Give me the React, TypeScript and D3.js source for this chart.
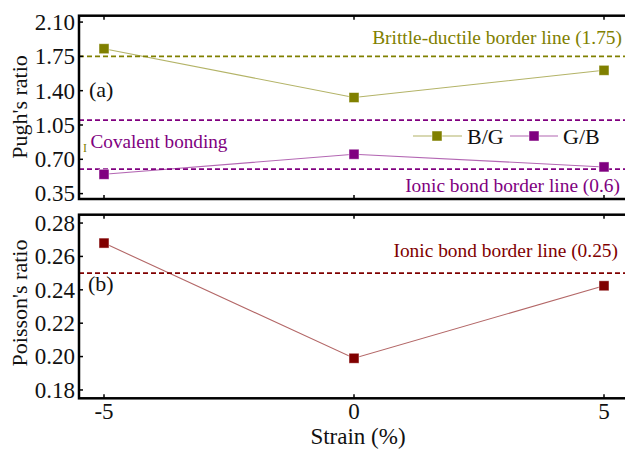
import React from "react";
import * as d3 from "d3";

// Strain levels (%) and the elastic ratios computed at each
const strain = [-5, 0, 5];
const bOverG = [1.828, 1.33, 1.608];
const gOverB = [0.547, 0.752, 0.622];
const poisson = [0.268, 0.199, 0.2424];

const pughTicks = [0.35, 0.7, 1.05, 1.4, 1.75, 2.1];
const poissonTicks = [0.18, 0.2, 0.22, 0.24, 0.26, 0.28];
const strainTicks = [-5, 0, 5];

// Reference border values
const brittleDuctile = 1.75;
const covalentBorder = 1.1;
const ionicPugh = 0.6;
const ionicPoisson = 0.25;

const OLIVE = "#808000";
const PURPLE = "#800080";
const MAROON = "#800000";
const FONT = "Liberation Serif, Times New Roman, serif";
const serif = { fontFamily: FONT };

const W = 625;
const H = 450;
const left = 79;
const right = 629;

const x = d3.scaleLinear().domain([-5.5, 5.5]).range([left, right]);
const yTop = d3.scaleLinear().domain([0.295, 2.165]).range([199, 15.7]);
const yBot = d3.scaleLinear().domain([0.175, 0.285]).range([398.3, 214.7]);

function Marker({ cx, cy, color }: { cx: number; cy: number; color: string }) {
  const s = 10;
  return (
    <rect
      x={cx - s / 2}
      y={cy - s / 2}
      width={s}
      height={s}
      fill={color}
      stroke="#ffffff"
      strokeOpacity={0.6}
      strokeWidth={0.8}
    />
  );
}

function Series({
  values,
  y,
  color,
}: {
  values: number[];
  y: d3.ScaleLinear<number, number>;
  color: string;
}) {
  const line = d3
    .line<number>()
    .x((_, i) => x(strain[i]))
    .y((v) => y(v));
  return (
    <g>
      <path d={line(values) || ""} fill="none" stroke={color} strokeOpacity={0.6} strokeWidth={1.1} />
      {values.map((v, i) => (
        <Marker key={i} cx={x(strain[i])} cy={y(v)} color={color} />
      ))}
    </g>
  );
}

function Frame({
  y,
  ticks,
  fmt,
}: {
  y: d3.ScaleLinear<number, number>;
  ticks: number[];
  fmt: (v: number) => string;
}) {
  const [y0, y1] = y.range();
  return (
    <g>
      {ticks.map((t) => (
        <g key={t}>
          <line x1={left} x2={left + 4} y1={y(t)} y2={y(t)} stroke="#000" strokeWidth={1.5} />
          <text
            x={left - 4}
            y={y(t)}
            dy="0.34em"
            textAnchor="end"
            fontSize={23}
            style={serif}
            fill="#111"
          >
            {fmt(t)}
          </text>
        </g>
      ))}
      {strainTicks.map((t) => (
        <g key={t}>
          <line x1={x(t)} x2={x(t)} y1={y1} y2={y1 + 4} stroke="#000" strokeWidth={1.5} />
          <line x1={x(t)} x2={x(t)} y1={y0} y2={y0 - 4} stroke="#000" strokeWidth={1.5} />
        </g>
      ))}
      <rect
        x={left}
        y={y1}
        width={right - left}
        height={y0 - y1}
        fill="none"
        stroke="#000"
        strokeWidth={2.5}
      />
    </g>
  );
}

function Dashed({ y, color }: { y: number; color: string }) {
  return (
    <line
      x1={left}
      x2={right}
      y1={y}
      y2={y}
      stroke={color}
      strokeWidth={1.6}
      strokeDasharray="5,3"
    />
  );
}

export default function App() {
  const fmt2 = d3.format(".2f");
  return (
    <svg
      width={W}
      height={H}
      style={{ position: "absolute", left: 0, top: 0, background: "#fff" }}
    >
      <rect x={0} y={0} width={W} height={H} fill="#fff" />

      {/* (a) Pugh's ratio */}
      <Dashed y={yTop(brittleDuctile)} color={OLIVE} />
      <Dashed y={yTop(covalentBorder)} color={PURPLE} />
      <Dashed y={yTop(ionicPugh)} color={PURPLE} />
      <Series values={bOverG} y={yTop} color={OLIVE} />
      <Series values={gOverB} y={yTop} color={PURPLE} />
      <Frame y={yTop} ticks={pughTicks} fmt={fmt2} />
      <text x={622} y={44} textAnchor="end" fontSize={19.4} style={serif} fill={OLIVE}>
        Brittle-ductile border line (1.75)
      </text>
      <text x={620} y={192} textAnchor="end" fontSize={19.4} style={serif} fill={PURPLE}>
        Ionic bond border line (0.6)
      </text>
      <text x={90.5} y={148} fontSize={19.2} style={serif} fill={PURPLE}>
        Covalent bonding
      </text>
      <text x={83} y={152} fontSize={12} style={serif} fill={OLIVE}>
        I
      </text>
      <text x={89} y={97} fontSize={22} style={serif} fill="#111">
        (a)
      </text>

      {/* legend */}
      <g>
        <line x1={413} x2={462} y1={136} y2={136} stroke={OLIVE} strokeOpacity={0.6} strokeWidth={1.1} />
        <Marker cx={437} cy={136} color={OLIVE} />
        <text x={467} y={144} fontSize={22} style={serif} fill="#111">
          B/G
        </text>
        <line x1={510} x2={558} y1={136} y2={136} stroke={PURPLE} strokeOpacity={0.6} strokeWidth={1.1} />
        <Marker cx={534} cy={136} color={PURPLE} />
        <text x={563} y={144} fontSize={22} style={serif} fill="#111">
          G/B
        </text>
      </g>

      {/* (b) Poisson's ratio */}
      <Dashed y={yBot(ionicPoisson)} color={MAROON} />
      <Series values={poisson} y={yBot} color={MAROON} />
      <Frame y={yBot} ticks={poissonTicks} fmt={fmt2} />
      <text x={618} y={256.5} textAnchor="end" fontSize={19.4} style={serif} fill={MAROON}>
        Ionic bond border line (0.25)
      </text>
      <text x={88} y={291} fontSize={22} style={serif} fill="#111">
        (b)
      </text>

      {/* x tick labels and axis titles */}
      {strainTicks.map((t) => (
        <text
          key={t}
          x={x(t)}
          y={419}
          textAnchor="middle"
          fontSize={23}
          style={serif}
          fill="#111"
        >
          {t}
        </text>
      ))}
      <text x={358} y={444} textAnchor="middle" fontSize={23} style={serif} fill="#111">
        Strain (%)
      </text>
      <text
        transform={`translate(27, 107) rotate(-90)`}
        textAnchor="middle"
        fontSize={22}
        style={serif}
        fill="#111"
      >
        Pugh's ratio
      </text>
      <text
        transform={`translate(27, 303) rotate(-90)`}
        textAnchor="middle"
        fontSize={22}
        style={serif}
        fill="#111"
      >
        Poisson's ratio
      </text>
    </svg>
  );
}
